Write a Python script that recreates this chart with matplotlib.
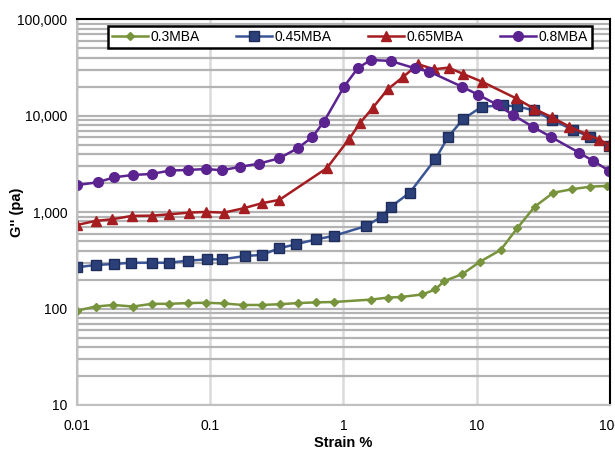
import matplotlib.pyplot as plt
from matplotlib.ticker import FuncFormatter, LogLocator, NullFormatter

plt.rcParams['font.family'] = ['Liberation Sans', 'DejaVu Sans']

# strain % / G'' (pa)
x_03 = [0.01, 0.0138, 0.0188, 0.0264, 0.0365, 0.049, 0.068, 0.0935, 0.127, 0.175, 0.243, 0.334, 0.453, 0.627, 0.843,
        1.62, 2.15, 2.72, 3.9, 4.9, 5.66, 7.8, 10.6, 15.1, 20.1, 27.2, 37.5, 51.9, 71.3, 95]
y_03 = [95, 105, 109, 105, 112, 112, 114, 115, 113, 109, 109, 111, 114, 116, 117,
        124, 130, 132, 140, 158, 192, 228, 307, 405, 681, 1140, 1590, 1730, 1840, 1870]

x_045 = [0.01, 0.0138, 0.0191, 0.0255, 0.0365, 0.0494, 0.068, 0.0953, 0.123, 0.182, 0.243, 0.33, 0.438, 0.627, 0.843,
         1.48, 1.94, 2.27, 3.14, 4.9, 6.1, 7.9, 10.9, 15.7, 20, 27, 36.7, 52.3, 70.5, 98.7]
y_045 = [268, 283, 290, 299, 299, 299, 314, 324, 324, 351, 360, 422, 464, 523, 567,
         719, 899, 1140, 1590, 3565, 6030, 9230, 12400, 12800, 12500, 11350, 9050, 7190, 6030, 4860]

x_065 = [0.01, 0.0138, 0.0184, 0.0258, 0.0365, 0.0494, 0.0694, 0.0935, 0.127, 0.178, 0.243, 0.33, 0.75,
         1.1, 1.34, 1.66, 2.15, 2.78, 3.64, 4.78, 6.14, 7.89, 10.9, 19.8, 27, 36.5, 49.5, 66, 83, 99]
y_065 = [736, 811, 844, 914, 920, 950, 989, 1005, 989, 1097, 1236, 1340, 2860,
         5720, 8500, 12100, 18830, 25060, 34200, 30340, 31560, 27150, 22600, 15100, 11800, 9650, 7710, 6450, 5650, 4980]

x_08 = [0.01, 0.0143, 0.0191, 0.0262, 0.0365, 0.0498, 0.068, 0.093, 0.123, 0.167, 0.231, 0.33, 0.453, 0.583, 0.714,
        1.01, 1.28, 1.6, 2.26, 3.42, 4.4, 7.8, 10.3, 14.1, 18.7, 26.2, 36, 58.5, 74, 98]
y_08 = [1910, 2040, 2300, 2430, 2490, 2700, 2740, 2800, 2720, 2950, 3180, 3620, 4600, 5990, 8690,
        20050, 31100, 37900, 37000, 31100, 28700, 19900, 16440, 13100, 10190, 7710, 6030, 4140, 3420, 2700]

fig = plt.figure(figsize=(6.15, 4.49), dpi=100)
ax = fig.add_axes([0.125, 0.098, 0.867, 0.859])

ax.plot(x_03, y_03, color='#77933C', marker='D', markersize=4.5, lw=1.8, label='0.3MBA')
ax.plot(x_045, y_045, color='#3A5596', marker='s', markersize=7, markerfacecolor='#2B3F78',
        markeredgecolor='#1F2D5A', lw=1.8, label='0.45MBA')
ax.plot(x_065, y_065, color='#A51D20', marker='^', markersize=7, lw=1.8, label='0.65MBA')
ax.plot(x_08, y_08, color='#5B2390', marker='o', markersize=7, lw=1.8, label='0.8MBA')

ax.set_xscale('log')
ax.set_yscale('log')
ax.set_xlim(0.01, 100)
ax.set_ylim(10, 100000)

ax.yaxis.set_major_locator(LogLocator(base=10, numticks=10))
ax.yaxis.set_minor_locator(LogLocator(base=10, subs=range(2, 10), numticks=20))
ax.yaxis.set_minor_formatter(NullFormatter())
ax.yaxis.set_major_formatter(FuncFormatter(lambda v, p: f'{v:,.0f}'))
ax.xaxis.set_major_formatter(FuncFormatter(lambda v, p: f'{v:g}'))
ax.xaxis.set_minor_locator(LogLocator(base=10, subs=[], numticks=10))

ax.grid(True, which='both', axis='y', color='#B3B3B3', lw=1.6, zorder=0)
ax.grid(True, which='major', axis='x', color='#DADADA', lw=1.8, zorder=0)
ax.set_axisbelow(True)

ax.tick_params(axis='y', which='both', length=0, labelsize=10, pad=7)
ax.tick_params(axis='x', which='both', length=0, labelsize=10, pad=10)
for s in ['left', 'bottom']:
    ax.spines[s].set_color('#C0C0C0')
    ax.spines[s].set_linewidth(1.5)
for s in ['top', 'right']:
    ax.spines[s].set_color('black')
    ax.spines[s].set_linewidth(1.5)

ax.set_xlabel('Strain %', fontsize=10.5, fontweight='bold')
ax.set_ylabel("G'' (pa)", fontsize=10.5, fontweight='bold')
ax.xaxis.set_label_coords(0.5, -0.08)
ax.yaxis.set_label_coords(-0.1, 0.5)

leg = ax.legend(loc='center', bbox_to_anchor=(0.058, 0.929, 0.908, 0.049), mode='expand', ncol=4,
                frameon=True, fancybox=False, fontsize=10, borderpad=0.3, handlelength=2.6,
                handletextpad=0.2, columnspacing=1.0, borderaxespad=0)
leg.get_frame().set_edgecolor('black')
leg.get_frame().set_linewidth(1.8)
leg.get_frame().set_alpha(1)

fig.savefig('out.png', dpi=100)
